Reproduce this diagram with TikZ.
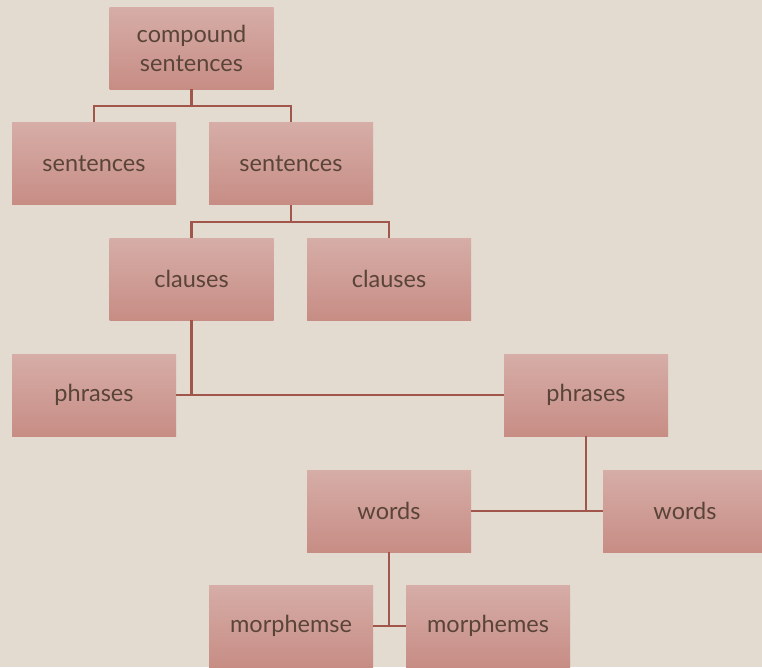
\documentclass[tikz,border=0pt]{standalone}
\usepackage{fontspec}
\setmainfont{Lato}
\definecolor{bg}{HTML}{E3DAD0}
\definecolor{boxtop}{HTML}{D6ADA7}
\definecolor{boxbot}{HTML}{C78D85}
\definecolor{txt}{HTML}{5A4438}
\definecolor{ln}{HTML}{A0564A}
\begin{document}
\begin{tikzpicture}[x=1pt,y=-1pt,
  box/.style={rectangle, minimum width=164pt, minimum height=82pt, inner sep=0pt,
    top color=boxtop, bottom color=boxbot, text=txt, align=center,
    font=\fontsize{23.5}{29}\selectfont},
  conn/.style={draw=ln, line width=2.8pt}]
\useasboundingbox[fill=bg] (0,0) rectangle (762,667);
\begin{scope}
\clip (0,0) rectangle (762,667);
\node[box] (cs) at (191.5,48) {compound\\sentences};
\node[box] (s1) at (94,163.5) {sentences};
\node[box] (s2) at (291,163.5) {sentences};
\node[box] (c1) at (191.5,279) {clauses};
\node[box] (c2) at (389,279) {clauses};
\node[box] (p1) at (94,395) {phrases};
\node[box] (p2) at (586,395) {phrases};
\node[box] (w1) at (389,511) {words};
\node[box] (w2) at (685,511) {words};
\node[box] (m1) at (291,626) {morphemse};
\node[box] (m2) at (488,626) {morphemes};

\coordinate (j1) at (191.5,106);
\coordinate (j2) at (291,222);
\draw[conn] (cs.south) -- (j1);
\draw[conn] (s1.north) |- (j1) -| (s2.north);
\draw[conn] (s2.south) -- (j2);
\draw[conn] (c1.north) |- (j2) -| (c2.north);
\draw[conn] (c1.south) -- (c1.south |- p1.east);
\draw[conn] (p1.east) -- (p2.west);
\draw[conn] (p2.south) -- (p2.south |- w1.east);
\draw[conn] (w1.east) -- (w2.west);
\draw[conn] (w1.south) -- (w1.south |- m1.east);
\draw[conn] (m1.east) -- (m2.west);
\end{scope}
\end{tikzpicture}
\end{document}
